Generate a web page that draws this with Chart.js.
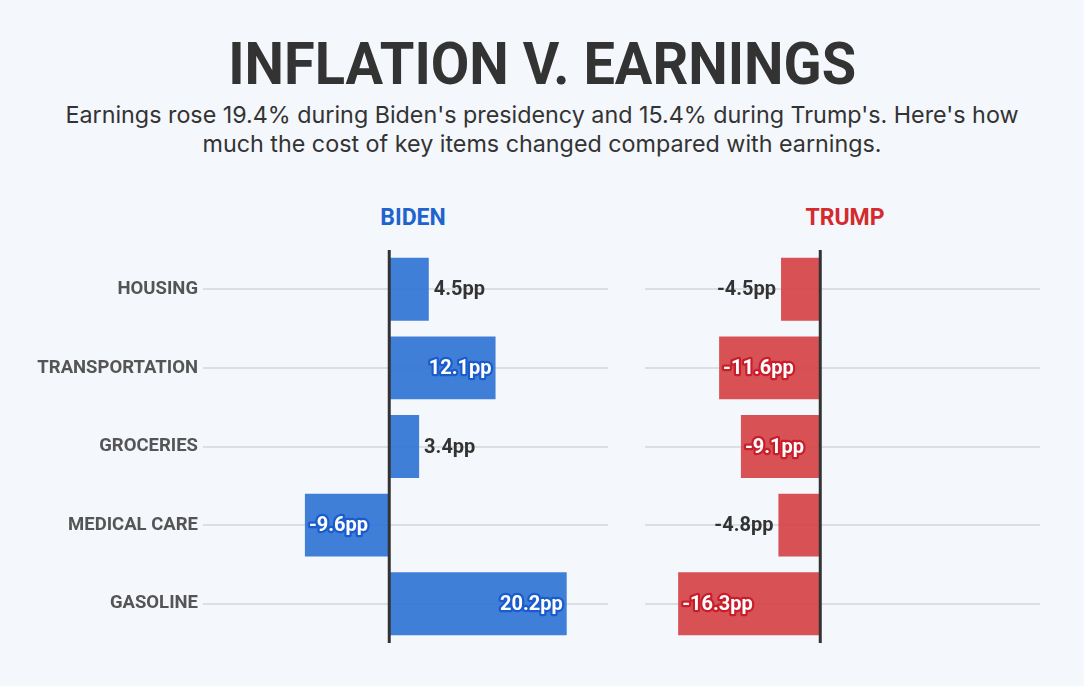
<!DOCTYPE html>
<html>
<head>
<meta charset="utf-8">
<script src="https://cdn.jsdelivr.net/npm/chart.js@4.4.1/dist/chart.umd.min.js"></script>
<style>
  html, body { margin:0; padding:0; background:#f4f7fb; }
  body { width:1084px; height:686px; position:relative; overflow:hidden; font-family: Roboto, "Liberation Sans", sans-serif; }
  #title { position:absolute; left:0; width:1084px; top:34px; text-align:center; font-weight:700; font-size:59px; line-height:1; color:#333; }
  #title span { display:inline-block; transform-origin:center; }
  #subtitle { position:absolute; left:0; width:1084px; top:100px; text-align:center; font-family: Inter, Roboto, sans-serif; font-size:23.3px; line-height:29px; color:#333; }
  .hdr { position:absolute; top:206px; width:200px; text-align:center; font-family: Roboto, sans-serif; font-weight:700; font-size:23px; line-height:1; }
  .box { position:absolute; top:250px; height:393px; }
</style>
</head>
<body>
<div id="title"><span id="titleText">INFLATION V. EARNINGS</span></div>
<div id="subtitle">Earnings rose 19.4% during Biden's presidency and 15.4% during Trump's. Here's how<br>much the cost of key items changed compared with earnings.</div>
<div class="hdr" id="hBiden" style="left:313px; color:#1f63cc;">BIDEN</div>
<div class="hdr" id="hTrump" style="left:745px; color:#d42a2e;">TRUMP</div>
<div class="box" style="left:0; width:608px;"><canvas id="biden"></canvas></div>
<div class="box" style="left:645px; width:395px;"><canvas id="trump"></canvas></div>
<script>
// ---- data ----
const categories = ['HOUSING', 'TRANSPORTATION', 'GROCERIES', 'MEDICAL CARE', 'GASOLINE'];
const bidenValues = [4.5, 12.1, 3.4, -9.6, 20.2];
const trumpValues = [-4.5, -11.6, -9.1, -4.8, -16.3];
const bidenRange = [-21.2, 24.9];
const trumpRange = [-20.1, 25.2];
const unitSuffix = 'pp';

// fit title width
(function(){
  const t = document.getElementById('titleText');
  const w = t.getBoundingClientRect().width;
  t.style.transform = 'scaleX(' + (628 / w) + ')';
})();

const valueLabels = {
  id: 'valueLabels',
  afterDatasetsDraw(chart, args, opts) {
    const ctx = chart.ctx;
    const area = chart.chartArea;
    const xs = chart.scales.x;
    const x0 = xs.getPixelForValue(0);
    ctx.save();
    ctx.strokeStyle = '#333';
    ctx.lineWidth = 3;
    ctx.beginPath();
    ctx.moveTo(x0, area.top);
    ctx.lineTo(x0, area.bottom);
    ctx.stroke();

    const meta = chart.getDatasetMeta(0);
    const data = chart.data.datasets[0].data;
    ctx.font = 'bold 20px Roboto';
    ctx.textBaseline = 'middle';
    meta.data.forEach((bar, i) => {
      const v = data[i];
      const txt = v.toFixed(1) + unitSuffix;
      const inside = Math.abs(v) > 6;
      const neg = v < 0;
      let x, align;
      if (inside) { x = neg ? bar.x + 4 : bar.x - 4; align = neg ? 'left' : 'right'; }
      else { x = neg ? bar.x - 5 : bar.x + 5; align = neg ? 'right' : 'left'; }
      ctx.textAlign = align;
      if (inside) {
        ctx.lineJoin = 'round';
        ctx.lineWidth = 4.5;
        ctx.strokeStyle = opts.stroke;
        ctx.strokeText(txt, x, bar.y + 1);
        ctx.fillStyle = '#ffffff';
      } else {
        ctx.fillStyle = '#333333';
      }
      ctx.fillText(txt, x, bar.y + 1);
    });
    ctx.restore();
  }
};

function makeChart(id, values, range, color, stroke, showLabels) {
  return new Chart(document.getElementById(id), {
    type: 'bar',
    data: {
      labels: categories,
      datasets: [{
        data: values,
        backgroundColor: color,
        borderWidth: 0,
        categoryPercentage: 1.0,
        barPercentage: 0.8
      }]
    },
    options: {
      indexAxis: 'y',
      responsive: true,
      maintainAspectRatio: false,
      animation: false,
      layout: { padding: 0 },
      plugins: {
        legend: { display: false },
        tooltip: { enabled: false },
        valueLabels: { stroke: stroke }
      },
      scales: {
        x: { display: false, min: range[0], max: range[1] },
        y: {
          display: true,
          border: { display: false },
          grid: { offset: false, color: '#dcdee2', lineWidth: 2, drawTicks: false },
          ticks: {
            display: showLabels,
            color: '#555555',
            padding: 5,
            font: { family: 'Roboto', weight: 'bold', size: 18.5 }
          },
          afterFit(scale) {
            scale.width = showLabels ? 203 : 0;
            scale.paddingTop = 0;
            scale.paddingBottom = 0;
          }
        }
      }
    },
    plugins: [valueLabels]
  });
}

makeChart('biden', bidenValues, bidenRange, 'rgba(51,119,214,0.94)', '#1a5ccc', true);
makeChart('trump', trumpValues, trumpRange, 'rgba(212,70,74,0.94)', '#c81e2c', false);
</script>
</body>
</html>
